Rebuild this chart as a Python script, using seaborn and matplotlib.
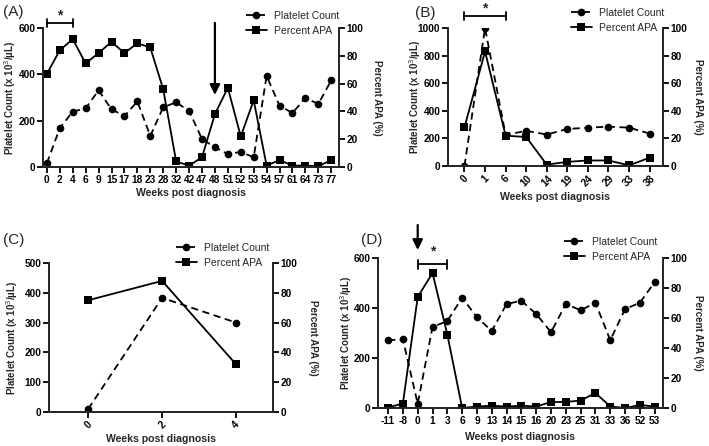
import numpy as np
import matplotlib
matplotlib.use("Agg")
import matplotlib.pyplot as plt
import seaborn as sns
from matplotlib.lines import Line2D

# ── Data ────────────────────────────────────────────────
A_WEEKS = ["0", "2", "4", "6", "9", "15", "17", "18", "23", "28", "32", "42",
           "47", "48", "51", "52", "53", "54", "57", "61", "64", "73", "77"]
A_PLT = [16, 168, 239, 253, 331, 249, 220, 283, 134, 258, 279, 242,
         121, 85, 56, 65, 42, 393, 265, 233, 298, 272, 374]
A_APA = [67, 84, 92, 74.5, 82, 90, 82, 89, 86, 56, 4, 1,
         7, 38, 57, 22, 48, 1, 5, 1, 1, 0.5, 5]

B_WEEKS = ["0", "1", "6", "10", "14", "19", "24", "29", "33", "38"]
B_PLT = [0, 1000, 225, 255, 228, 268, 278, 285, 278, 235]
B_APA = [28, 83, 22, 21, 1, 3, 4, 4, 0.5, 6]

C_WEEKS = ["0", "2", "4"]
C_PLT = [10, 383, 300]
C_APA = [75, 88, 32]

D_WEEKS = ["-11", "-8", "0", "1", "3", "6", "9", "13", "14", "15", "16", "20",
           "23", "25", "31", "33", "36", "52", "53"]
D_PLT = [271, 275, 17, 324, 348, 441, 363, 308, 416, 429, 376, 303,
         416, 391, 421, 271, 396, 421, 504]
D_APA = [0.3, 3, 74, 90, 49, 0, 1, 1.5, 1, 1.5, 1, 4,
         4, 5, 10, 1, 0, 2, 1]

# ── Style ───────────────────────────────────────────────
sns.set_style("ticks")
plt.rcParams["font.family"] = ["Liberation Sans", "DejaVu Sans"]
plt.rcParams["axes.linewidth"] = 1.3
plt.rcParams["xtick.major.width"] = 1.3
plt.rcParams["ytick.major.width"] = 1.3
plt.rcParams["xtick.major.size"] = 4
plt.rcParams["ytick.major.size"] = 4
plt.rcParams["xtick.color"] = "black"
plt.rcParams["ytick.color"] = "black"

W, H = 709, 446
fig = plt.figure(figsize=(W / 100, H / 100), dpi=100)

DASH = (0, (4, 2.5))
TICK_FS = 7.3
LAB_FS = 7.0


def px_rect(left, right, top, bottom):
    return [left / W, 1 - bottom / H, (right - left) / W, (bottom - top) / H]


def panel(rect, weeks, plt_vals, apa_vals, ymax, ystep, xlim, rot,
          left_lab_px, right_lab_px, x_lab_px, leg_xy):
    ax = fig.add_axes(rect)
    ax2 = ax.twinx()
    idx = np.arange(len(weeks))
    sns.lineplot(x=idx, y=plt_vals, ax=ax, color="black", marker="o",
                 markersize=5.5, linewidth=1.3, linestyle=DASH,
                 markeredgewidth=0)
    sns.lineplot(x=idx, y=apa_vals, ax=ax2, color="black", marker="s",
                 markersize=5.5, linewidth=1.3, markeredgewidth=0)
    ax.set_ylim(0, ymax)
    ax2.set_ylim(0, 100)
    ax.set_yticks(np.arange(0, ymax + 1, ystep))
    ax2.set_yticks(np.arange(0, 101, 20))
    ax.set_xlim(*xlim)
    ax.set_xticks(idx)
    if rot:
        ax.set_xticklabels(weeks, rotation=45, ha="center", fontsize=TICK_FS - 0.3)
    else:
        ax.set_xticklabels(weeks)
    for a in (ax, ax2):
        a.spines["top"].set_visible(False)
        a.spines["right"].set_visible(True)
        a.tick_params(labelsize=TICK_FS, pad=1.5)
        for t in a.get_xticklabels() + a.get_yticklabels():
            t.set_fontweight("bold")
    ax.set_xlabel("Weeks post diagnosis", fontsize=7.6,
                  fontweight="bold", va="center")
    ax.set_ylabel("Platelet Count (x 10$^3$/µL)", fontsize=LAB_FS,
                  fontweight="bold", va="center")
    ax2.set_ylabel("Percent APA (%)", fontsize=LAB_FS, fontweight="bold",
                   rotation=-90, va="center")
    aw = rect[2] * W
    ah = rect[3] * H
    ax.yaxis.set_label_coords(-left_lab_px / aw, 0.5)
    ax2.yaxis.set_label_coords(1 + right_lab_px / aw, 0.5)
    ax.xaxis.set_label_coords(0.5, -x_lab_px / ah)

    handles = [
        Line2D([], [], color="black", marker="o", markersize=5.5,
               linestyle=DASH, linewidth=1.3, markeredgewidth=0),
        Line2D([], [], color="black", marker="s", markersize=5.5,
               linewidth=1.3, markeredgewidth=0),
    ]
    fig.legend(handles, ["Platelet Count", "Percent APA"], loc="upper left",
               bbox_to_anchor=(leg_xy[0] / W, 1 - leg_xy[1] / H),
               frameon=False, fontsize=7.5, handlelength=2.0,
               handletextpad=0.7, labelspacing=0.45, borderpad=0,
               borderaxespad=0)
    return ax, ax2


def bracket(ax, x0, x1, y, star_y, cap):
    ax.plot([x0, x1], [y, y], color="black", lw=1.3, clip_on=False)
    ax.plot([x0, x0], [y - cap, y + cap], color="black", lw=1.3, clip_on=False)
    ax.plot([x1, x1], [y - cap, y + cap], color="black", lw=1.3, clip_on=False)
    ax.text((x0 + x1) / 2, star_y, "*", ha="center", va="center",
            fontsize=10, fontweight="bold")


def arrow(ax, x, y_top, y_tip):
    ax.annotate("", xy=(x, y_tip), xytext=(x, y_top),
                arrowprops=dict(arrowstyle="-|>", color="black", lw=1.6,
                                mutation_scale=15, shrinkA=0, shrinkB=0),
                annotation_clip=False)


# ── Panel A ─────────────────────────────────────────────
axA, axA2 = panel(px_rect(43, 339, 28, 167), A_WEEKS, A_PLT, A_APA, 600, 200,
                  (-0.3, len(A_WEEKS) - 0.4), False, 33, 38, 26, (246, 11))
bracket(axA, 0, 2, 622, 655, 18)
arrow(axA, A_WEEKS.index("48"), 622, 311)

# ── Panel B ─────────────────────────────────────────────
axB, axB2 = panel(px_rect(448, 663, 28, 166), B_WEEKS, B_PLT, B_APA, 1000, 200,
                  (-0.8, len(B_WEEKS) - 0.35), True, 33, 35, 31, (571, 8))
bracket(axB, 0, 2, 1087, 1140, 30)

# ── Panel C ─────────────────────────────────────────────
axC, axC2 = panel(px_rect(49, 273, 263, 412), C_WEEKS, C_PLT, C_APA, 500, 100,
                  (-0.53, 2.5), True, 37, 40, 27, (176, 243))

# ── Panel D ─────────────────────────────────────────────
axD, axD2 = panel(px_rect(378, 663, 258, 408), D_WEEKS, D_PLT, D_APA, 600, 200,
                  (-0.68, len(D_WEEKS) - 0.44), False, 32, 35, 29, (564, 237))
bracket(axD, 2, 4, 576, 625, 18)
arrow(axD, D_WEEKS.index("0"), 732, 632)

# ── Panel letters ───────────────────────────────────────
for lab, x, y in [("(A)", 3, 12), ("(B)", 415, 13), ("(C)", 3, 240), ("(D)", 361, 240)]:
    fig.text(x / W, 1 - y / H, lab, fontsize=11, ha="left", va="center")

fig.savefig("out.png", dpi=100)
